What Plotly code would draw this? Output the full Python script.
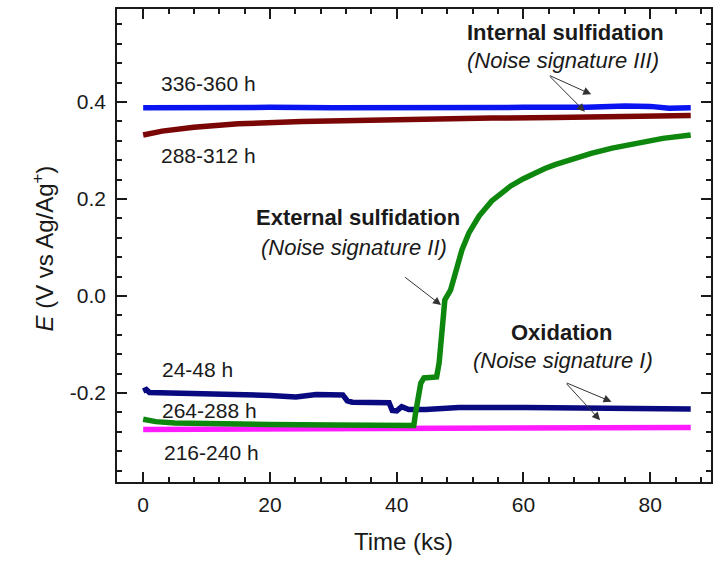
import plotly.graph_objects as go

# ---- data ----
t_336 = [0, 10, 20, 30, 40, 50, 60, 70, 76, 80, 83, 86.4]
e_336 = [0.388, 0.389, 0.389, 0.388, 0.389, 0.389, 0.389, 0.389, 0.392, 0.391, 0.387, 0.388]

t_288 = [0, 3, 8, 15, 25, 35, 45, 55, 65, 75, 86.4]
e_288 = [0.332, 0.340, 0.348, 0.355, 0.360, 0.363, 0.365, 0.367, 0.368, 0.370, 0.372]

t_24 = [0, 0.5, 1.0, 5, 13.6, 20, 24.1, 27.3, 31.5, 32.2, 33, 38.8, 39.3, 40.0,
        40.8, 41.9, 44.6, 49.8, 60.3, 70, 80, 86.4]
e_24 = [-0.196, -0.193, -0.199, -0.200, -0.202, -0.205, -0.208, -0.203, -0.204,
        -0.216, -0.219, -0.220, -0.236, -0.237, -0.228, -0.234, -0.234, -0.230,
        -0.230, -0.231, -0.232, -0.233]

t_216 = [0, 20, 40, 60, 86.4]
e_216 = [-0.275, -0.274, -0.273, -0.272, -0.271]

t_264 = [0, 2, 5, 8.4, 20, 30, 39.8, 42.7, 43.0, 43.8, 44.3, 46.3, 46.7, 46.9,
         47.2, 47.6, 48.5, 49.5, 50.3, 51.4, 53, 55, 56.5, 58, 60, 62, 63.4, 65,
         67, 70.7, 74, 77.6, 82, 86.4]
e_264 = [-0.254, -0.259, -0.262, -0.263, -0.265, -0.266, -0.266, -0.267, -0.24,
         -0.18, -0.169, -0.167, -0.138, -0.111, -0.07, -0.008, 0.012, 0.06, 0.095,
         0.13, 0.165, 0.196, 0.213, 0.227, 0.242, 0.255, 0.263, 0.271, 0.280,
         0.294, 0.305, 0.315, 0.325, 0.332]

series_names = ["336-360 h", "288-312 h", "24-48 h", "216-240 h", "264-288 h"]
series_colors = ["#0a14f0", "#7a0606", "#0a0a80", "#ff1aff", "#0d870d"]

# axis ticks
x_tick_vals = [0, 20, 40, 60, 80]
x_tick_text = ["0", "20", "40", "60", "80"]
y_tick_vals = [-0.2, 0.0, 0.2, 0.4]
y_tick_text = ["-0.2", "0.0", "0.2", "0.4"]

# text labels (data coordinates)
hour_labels = ["336-360 h", "288-312 h", "24-48 h", "264-288 h", "216-240 h"]
hour_x = [10.25, 10.33, 8.6, 10.5, 10.8]
hour_y = [0.439, 0.289, -0.151, -0.237, -0.322]

bold_labels = ["Internal sulfidation", "External sulfidation", "Oxidation"]
bold_x = [66.7, 33.9, 66.0]
bold_y = [0.544, 0.161, -0.076]

ital_labels = ["(Noise signature III)", "(Noise signature II)", "(Noise signature I)"]
ital_x = [66.3, 33.3, 66.3]
ital_y = [0.485, 0.101, -0.132]

# arrows: tail -> head (data coordinates)
arrow_tail_x = [63.95, 63.95, 41.1, 66.6, 66.6]
arrow_tail_y = [0.4557, 0.4557, 0.041, -0.178, -0.178]
arrow_head_x = [70.7, 69.7, 47.0, 73.9, 72.1]
arrow_head_y = [0.4159, 0.380, -0.0186, -0.218, -0.256]

FONT = "Liberation Sans, Arial, sans-serif"
TXT = "#1a1a1a"
XR = [-4.13, 89.6]
YR = [-0.3835, 0.5918]

fig = go.Figure()
for t, e, n, c in zip([t_336, t_288, t_24, t_216, t_264],
                      [e_336, e_288, e_24, e_216, e_264],
                      series_names, series_colors):
    fig.add_trace(go.Scatter(x=t, y=e, mode="lines", name=n,
                             line=dict(color=c, width=5.5), showlegend=False))

# invisible trace to activate mirrored tick axes (top / right)
fig.add_trace(go.Scatter(x=[t_336[0]], y=[e_336[0]], xaxis="x2", yaxis="y2",
                         mode="markers", marker=dict(opacity=0), showlegend=False,
                         hoverinfo="skip"))

ann = []
for s, x, y in zip(hour_labels, hour_x, hour_y):
    ann.append(dict(text=s, x=x, y=y, xref="x", yref="y", showarrow=False,
                    font=dict(family=FONT, size=21, color=TXT)))
for s, x, y in zip(bold_labels, bold_x, bold_y):
    ann.append(dict(text="<b>" + s + "</b>", x=x, y=y, xref="x", yref="y",
                    showarrow=False, font=dict(family=FONT, size=22, color=TXT)))
for s, x, y in zip(ital_labels, ital_x, ital_y):
    ann.append(dict(text="<i>" + s + "</i>", x=x, y=y, xref="x", yref="y",
                    showarrow=False, font=dict(family=FONT, size=22, color=TXT)))
for tx, ty, hx, hy in zip(arrow_tail_x, arrow_tail_y, arrow_head_x, arrow_head_y):
    ann.append(dict(text="", x=hx, y=hy, ax=tx, ay=ty, xref="x", yref="y",
                    axref="x", ayref="y", showarrow=True, arrowhead=2,
                    arrowsize=1.6, arrowwidth=1, arrowcolor="#333333"))

ann.append(dict(text="Time (ks)", x=0.483, y=-0.1586, xref="paper", yref="paper",
                showarrow=False, font=dict(family=FONT, size=24, color=TXT)))
ann.append(dict(text="<i>E</i> (V vs Ag/Ag<sup>+</sup>)", x=-0.154, y=0.4926,
                xref="paper", yref="paper", textangle=-90, showarrow=False,
                font=dict(family=FONT, size=24, color=TXT)))

tick_common = dict(showgrid=False, zeroline=False, ticks="inside", ticklen=10,
                   tickwidth=1.5, tickcolor="#1a1a1a",
                   tickfont=dict(family=FONT, size=21, color=TXT))
xminor = dict(ticks="inside", ticklen=5, tickwidth=1.5, dtick=4, tick0=0,
              tickcolor="#1a1a1a")
yminor = dict(ticks="inside", ticklen=5, tickwidth=1.5, dtick=0.04, tick0=0,
              tickcolor="#1a1a1a")

fig.update_layout(
    width=714, height=569,
    margin=dict(l=117, r=1, t=9, b=87),
    paper_bgcolor="white", plot_bgcolor="white",
    annotations=ann,
    xaxis=dict(range=XR, tickvals=x_tick_vals, ticktext=x_tick_text, minor=xminor,
               showline=True, mirror=True, linecolor="#1a1a1a", linewidth=1.5,
               ticklabelstandoff=3, **tick_common),
    yaxis=dict(range=YR, tickvals=y_tick_vals, ticktext=y_tick_text, minor=yminor,
               showline=True, mirror=True, linecolor="#1a1a1a", linewidth=1.5,
               ticklabelstandoff=5, **tick_common),
    xaxis2=dict(range=XR, tickvals=x_tick_vals, minor=xminor, overlaying="x",
                side="top", anchor="y2", showticklabels=False, showline=False,
                **tick_common),
    yaxis2=dict(range=YR, tickvals=y_tick_vals, minor=yminor, overlaying="y",
                side="right", anchor="x2", showticklabels=False, showline=False,
                **tick_common),
)

fig.write_html("out.html")
